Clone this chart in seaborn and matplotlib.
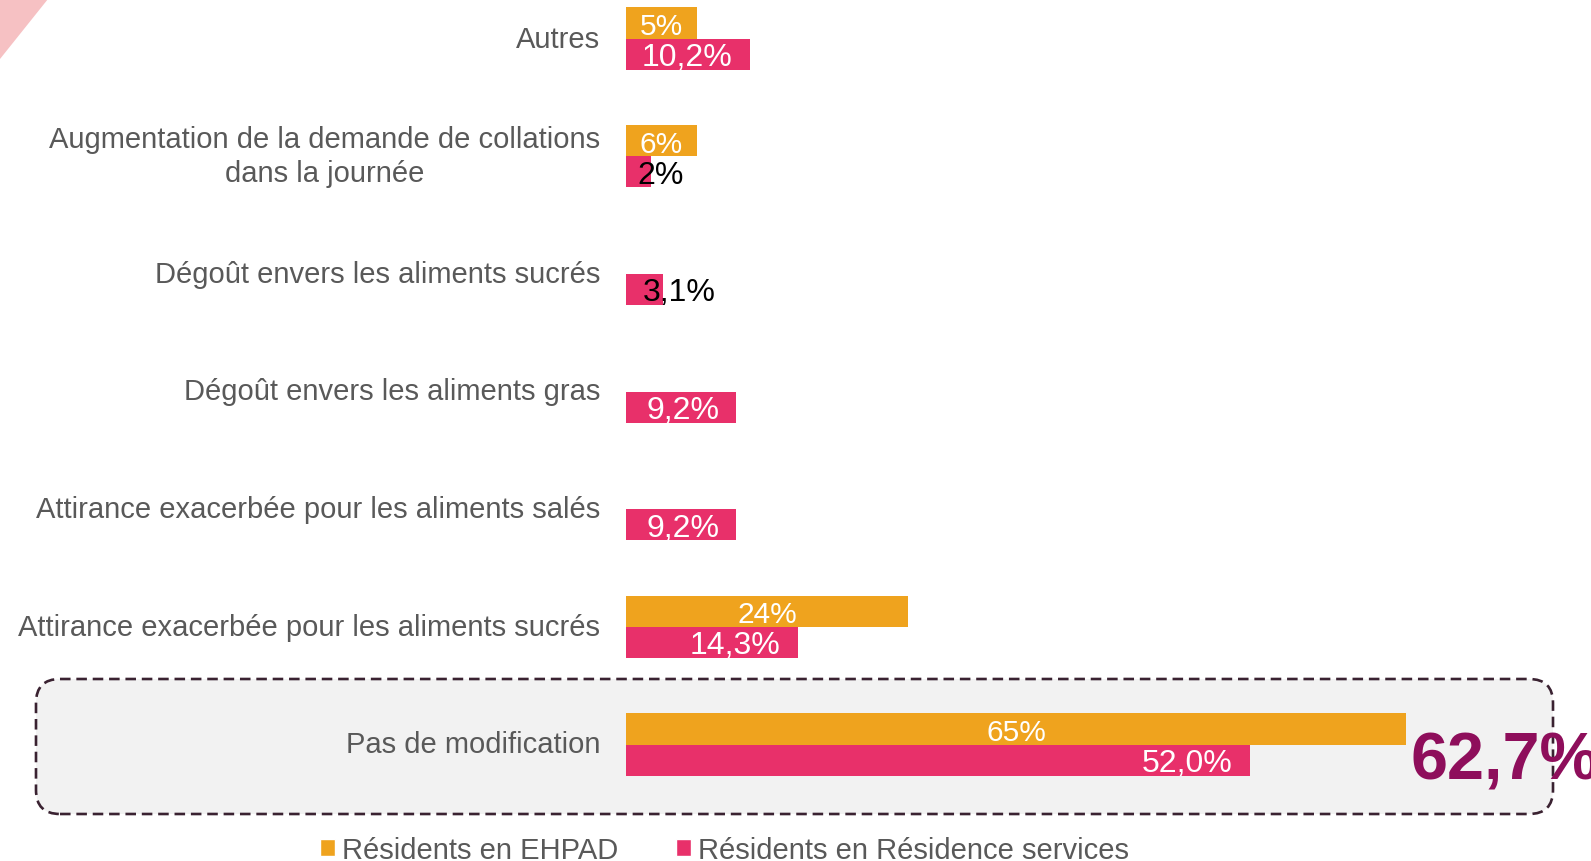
import numpy as np
import pandas as pd
import matplotlib
matplotlib.use("Agg")
import matplotlib.pyplot as plt
import seaborn as sns
from matplotlib.patches import FancyBboxPatch, Polygon, Patch
from matplotlib.transforms import IdentityTransform

categories = [
    "Autres",
    "Augmentation de la demande de collations\ndans la journée",
    "Dégoût envers les aliments sucrés",
    "Dégoût envers les aliments gras",
    "Attirance exacerbée pour les aliments salés",
    "Attirance exacerbée pour les aliments sucrés",
    "Pas de modification",
]
series = ["Résidents en EHPAD", "Résidents en Résidence services"]
# bar lengths
ehpad = [5.9, 5.9, np.nan, np.nan, np.nan, 23.5, 65.0]
residence = [10.3, 2.1, 3.1, 9.2, 9.2, 14.3, 52.0]
ehpad_labels = ["5%", "6%", "", "", "", "24%", "65%"]
residence_labels = ["10,2%", "2%", "3,1%", "9,2%", "9,2%", "14,3%", "52,0%"]
highlight_label = "62,7%"

ORANGE = "#EFA31E"
PINK = "#E8306A"
GREY = "#595959"
W, H = 1591, 862

df = pd.DataFrame({
    "categorie": categories * 2,
    "serie": [series[0]] * len(categories) + [series[1]] * len(categories),
    "valeur": ehpad + residence,
})

sns.set_theme(style="white")
plt.rcParams["font.family"] = ["Liberation Sans", "DejaVu Sans"]

fig = plt.figure(figsize=(W / 100, H / 100), dpi=100)
x0 = 626
ax = fig.add_axes([x0 / W, 0, (W - x0) / W, 1])
ax.patch.set_visible(False)

sns.barplot(data=df, y="categorie", x="valeur", hue="serie", order=categories,
            hue_order=series, palette=[ORANGE, PINK], orient="h",
            width=0.527, gap=0, saturation=1, linewidth=0, legend=False, ax=ax)

ax.set_xlim(0, (W - x0) / 12)
top_c, bot_c = 39.5, 745.5
pitch = (bot_c - top_c) / 6
ax.set_ylim(6 + (H - bot_c) / pitch, -top_c / pitch)
sns.despine(ax=ax, left=True, bottom=True)
ax.set_xticks([])
ax.set_xlabel("")
ax.set_ylabel("")
ax.tick_params(axis="y", length=0, pad=18.7, labelsize=21.0, labelcolor=GREY)
for lab in ax.get_yticklabels():
    lab.set_multialignment("center")
    lab.set_va("center")
    lab.set_linespacing(1.25)

bw = 0.527 / 2
dy = 0.025
for i in range(len(categories)):
    v = ehpad[i]
    if not np.isnan(v):
        ax.text(v / 2, i - bw / 2 + dy, ehpad_labels[i], ha="center", va="center",
                color="white", fontsize=21.5)
    v = residence[i]
    if v < 5:
        ax.text(v * 0.45, i + bw / 2 + dy, residence_labels[i], ha="left",
                va="center", color="black", fontsize=23)
    else:
        ax.text(v - 1.43, i + bw / 2 + dy, residence_labels[i], ha="right",
                va="center", color="white", fontsize=23)

ax.text(65.4, 6.29, highlight_label, ha="left", va="baseline", color="#8E0E5B",
        fontsize=48, fontweight="bold", clip_on=False)

# highlighted box around "Pas de modification"
box = FancyBboxPatch((36, H - 815), 1553 - 36, 815 - 680,
                     boxstyle="round,pad=0,rounding_size=24",
                     transform=IdentityTransform(), facecolor="#F2F2F2",
                     edgecolor="#3A2231", linewidth=1.9, linestyle=(0, (4, 2.2)),
                     zorder=-1)
fig.add_artist(box)

# corner decoration
tri = Polygon([(0, H), (48, H), (0, H - 60)], closed=True,
              transform=IdentityTransform(), facecolor="#F6C1C3",
              edgecolor="none", zorder=-1)
fig.add_artist(tri)

handles = [Patch(facecolor=ORANGE), Patch(facecolor=PINK)]
fig.legend(handles, series, loc="center left",
           bbox_to_anchor=(320 / W, 11 / H), ncol=2, frameon=False,
           fontsize=21.0, labelcolor=GREY, handlelength=0.5, handleheight=0.5,
           handletextpad=0.25, columnspacing=2.0, borderpad=0, borderaxespad=0)

fig.savefig("out.png", dpi=100)
